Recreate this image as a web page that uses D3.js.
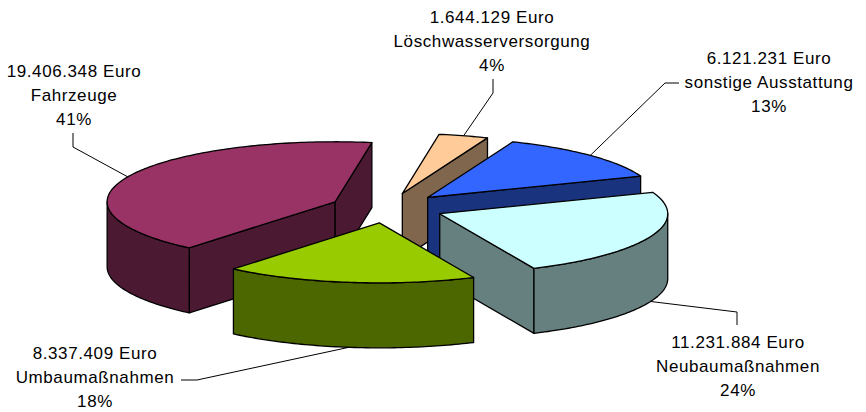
<!DOCTYPE html>
<html>
<head>
<meta charset="utf-8">
<script src="https://cdn.jsdelivr.net/npm/d3@7"></script>
<style>
  body { margin: 0; background: #fff; }
  svg { display: block; }
</style>
</head>
<body>
<div id="chart"></div>
<script>

// données
const categories = ['Fahrzeuge', 'Löschwasserversorgung', 'sonstige Ausstattung', 'Neubaumaßnahmen', 'Umbaumaßnahmen'];
const amounts = [19406348, 1644129, 6121231, 11231884, 8337409];
const pctLabels = ['41%', '4%', '13%', '24%', '18%'];
const topColors = ['#993366', '#ffcc99', '#3366ff', '#ccffff', '#99cc00'];

const width = 866;
const height = 412;

// géométrie du camembert 3D
const cx = 387, cy = 208;
const rx = 228, ry = 60;
const depth = 65;
const explode = 0.25;
const startDeg = 219.8;

// position des étiquettes (centre, première ligne) et des coudes des traits
const labelLayout = [
    {x: 74, y: 77, leader: [[73, 133], [73, 147]]},
    {x: 492, y: 23, leader: [[493, 79], [493, 93]]},
    {x: 769, y: 64, leader: [[679, 83], [665, 83]]},
    {x: 738, y: 348, leader: [[737, 325], [737, 312]]},
    {x: 95, y: 359, leader: [[181, 380], [197, 380]]}
];
const lineHeight = 24;

const de = d3.formatLocale({decimal: ',', thousands: '.', grouping: [3], currency: ['', '']});
const fmtEuro = de.format(',d');

const svg = d3.select('#chart')
    .append('svg')
    .attr('width', width)
    .attr('height', height)
    .style('background', '#fff');

// échelles : cercle unité -> ellipse
const sx = d3.scaleLinear().domain([-1, 1]).range([-rx, rx]);
const sy = d3.scaleLinear().domain([-1, 1]).range([ry, -ry]);

const start = startDeg * Math.PI / 180;
const pie = d3.pie().sort(null).value(d => d)
    .startAngle(start)
    .endAngle(start + 2 * Math.PI);
const arcs = pie(amounts);

const line = d3.line();

function pt(c, a, dz) {
    return [c[0] + sx(Math.sin(a)), c[1] + sy(Math.cos(a)) + (dz || 0)];
}

function arcPts(c, a0, a1, dz) {
    const n = Math.max(2, Math.ceil((a1 - a0) / (Math.PI / 180)));
    return d3.range(n + 1).map(i => pt(c, a0 + (a1 - a0) * i / n, dz));
}

function half(col) {
    const c = d3.rgb(col);
    return d3.rgb(Math.floor(c.r / 2), Math.floor(c.g / 2), Math.floor(c.b / 2)).formatHex();
}

const slices = arcs.map((d, i) => {
    const mid = (d.startAngle + d.endAngle) / 2;
    const c = [cx + sx(explode * Math.sin(mid)), cy + sy(explode * Math.cos(mid))];
    return {i, a0: d.startAngle, a1: d.endAngle, mid, c};
});

// ordre de dessin : de l'arrière vers l'avant
const order = slices.slice().sort((a, b) => Math.cos(b.mid) - Math.cos(a.mid));

const pieG = svg.append('g')
    .attr('stroke', '#000')
    .attr('stroke-width', 1.3)
    .attr('stroke-linejoin', 'round');

order.forEach(s => {
    const g = pieG.append('g');
    const side = half(topColors[s.i]);
    const c = s.c;
    const cb = [c[0], c[1] + depth];

    // face radiale de début
    if (Math.cos(s.a0 - Math.PI / 2) < 0) {
        g.append('path')
            .attr('d', line([c, pt(c, s.a0), pt(c, s.a0, depth), cb]) + 'Z')
            .attr('fill', side);
    }
    // face radiale de fin
    if (Math.cos(s.a1 + Math.PI / 2) < 0) {
        g.append('path')
            .attr('d', line([c, pt(c, s.a1), pt(c, s.a1, depth), cb]) + 'Z')
            .attr('fill', side);
    }
    // côté arrondi visible
    for (let k = 0; k < 2; k++) {
        const lo = Math.max(s.a0, Math.PI / 2 + 2 * Math.PI * k);
        const hi = Math.min(s.a1, 3 * Math.PI / 2 + 2 * Math.PI * k);
        if (hi > lo) {
            const pts = arcPts(c, lo, hi, 0).concat(arcPts(c, lo, hi, depth).reverse());
            g.append('path')
                .attr('d', line(pts) + 'Z')
                .attr('fill', side);
        }
    }
    // dessus
    g.append('path')
        .attr('d', line([c].concat(arcPts(c, s.a0, s.a1, 0))) + 'Z')
        .attr('fill', topColors[s.i]);
});

// traits de rappel
const leaders = svg.append('g')
    .attr('fill', 'none')
    .attr('stroke', '#000')
    .attr('stroke-width', 1);

slices.forEach(s => {
    const lay = labelLayout[s.i];
    const end = Math.cos(s.mid) < 0 ? pt(s.c, s.mid, depth) : pt(s.c, s.mid, 0);
    leaders.append('path')
        .attr('d', line(lay.leader.concat([end])));
});

// étiquettes
const labels = svg.append('g')
    .attr('font-family', '"Liberation Sans", Arial, sans-serif')
    .attr('font-size', '17px')
    .attr('letter-spacing', '0.6px')
    .attr('fill', '#000')
    .attr('text-anchor', 'middle');

slices.forEach(s => {
    const lay = labelLayout[s.i];
    const lines = [fmtEuro(amounts[s.i]) + ' Euro', categories[s.i], pctLabels[s.i]];
    const t = labels.append('text')
        .attr('x', lay.x)
        .attr('y', lay.y);
    lines.forEach((txt, j) => {
        t.append('tspan')
            .attr('x', lay.x)
            .attr('y', lay.y + j * lineHeight)
            .text(txt);
    });
});

</script>
</body>
</html>
